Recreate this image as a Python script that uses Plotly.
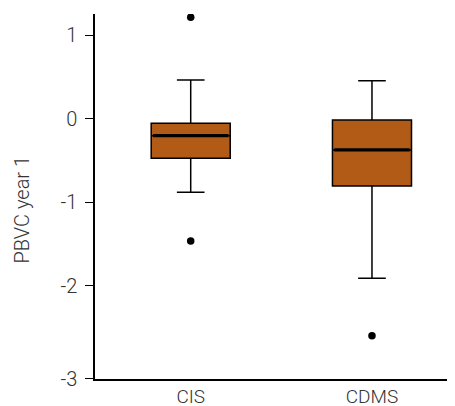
import plotly.graph_objects as go

categories = ["CIS", "CDMS"]
q1 = [-0.475, -0.807]
median = [-0.204, -0.375]
q3 = [-0.055, -0.016]
lower_whisker = [-0.883, -1.914]
upper_whisker = [0.464, 0.456]
outlier_cat = [0, 0, 1]
outlier_vals = [1.216, -1.466, -2.602]
ytick_vals = [1, 0, -1, -2, -3.12]
ytick_text = ["1", "0", "-1", "-2", "-3"]

BOX_W = 0.436
FILL = "#B25B16"
FONT = dict(family="Roboto", size=20, color="#333333", weight=300)

xpos = list(range(len(categories)))

fig = go.Figure()
fig.add_trace(go.Box(
    x=xpos, q1=q1, median=median, q3=q3,
    lowerfence=lower_whisker, upperfence=upper_whisker,
    width=BOX_W, whiskerwidth=0.35, boxpoints=False,
    fillcolor=FILL, line=dict(color="black", width=1.5),
    showlegend=False, hoverinfo="skip",
))
for i, m in enumerate(median):
    fig.add_trace(go.Scatter(
        x=[xpos[i] - BOX_W / 2 + 0.01, xpos[i] + BOX_W / 2 - 0.01], y=[m, m],
        mode="lines", line=dict(color="black", width=3.2),
        showlegend=False, hoverinfo="skip",
    ))
fig.add_trace(go.Scatter(
    x=outlier_cat, y=outlier_vals, mode="markers",
    marker=dict(color="black", size=7.5),
    showlegend=False, hoverinfo="skip",
))

# page body has an 8px default margin, so the figure is 8px smaller and margins shifted
fig.update_layout(
    width=447, height=398,
    margin=dict(l=87, r=0, t=6, b=27),
    plot_bgcolor="white", paper_bgcolor="white",
    font=FONT,
    xaxis=dict(
        range=[-0.528, 1.458], tickvals=xpos, ticktext=categories,
        tickfont=dict(size=19),
        showline=True, linecolor="black", linewidth=1.5, automargin=False,
        showgrid=False, zeroline=False, ticks="", ticklabelstandoff=-1,
    ),
    yaxis=dict(
        range=[-3.121, 1.255], tickvals=ytick_vals, ticktext=ytick_text,
        showline=True, linecolor="black", linewidth=1.5, automargin=False,
        showgrid=False, zeroline=False, ticks="outside", ticklen=8,
        tickcolor="black", tickwidth=1.2, ticklabelstandoff=4,
    ),
    annotations=[dict(
        text="PBVC year 1", textangle=-90, xref="paper", yref="paper",
        x=-(95 - 21.5) / 360, y=(379 - 210) / 365, showarrow=False,
        xanchor="center", yanchor="middle",
        font=dict(family="Roboto", size=20, color="#333333", weight=300),
    )],
)

fig.write_html("out.html")
